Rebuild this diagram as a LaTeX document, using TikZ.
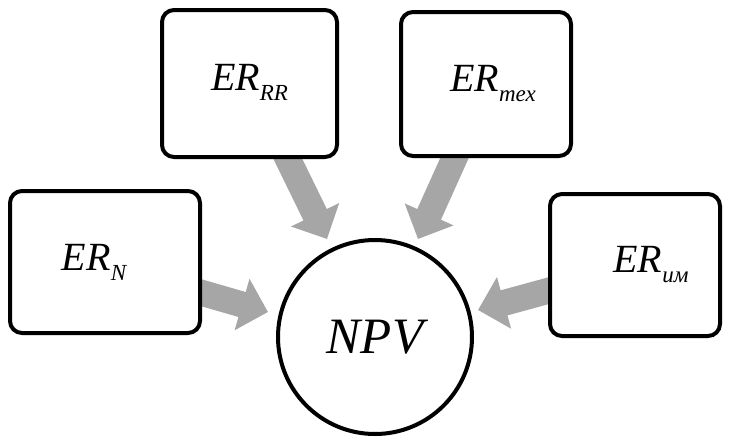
\documentclass[tikz,border=0pt]{standalone}
\usepackage{fontspec}
\setmainfont{Liberation Serif}
\usetikzlibrary{arrows.meta}
\pgfdeclarelayer{bg}
\pgfsetlayers{bg,main}
\definecolor{flowgray}{HTML}{A6A6A6}
% ER with a lowered subscript, in large italic type
\newcommand{\ersub}[1]{{\itshape\fontsize{40}{42}\selectfont ER\raisebox{-10pt}{\fontsize{23}{25}\selectfont #1}}}
\tikzset{
  factor/.style={draw=black, line width=4pt, rounded corners=12pt, fill=white, inner sep=0pt},
  result/.style={draw=black, line width=4pt, circle, fill=white, minimum size=194pt, inner sep=0pt,
                 font=\itshape\fontsize{51}{53}\selectfont},
  flow/.style={draw=flowgray, line width=26pt,
               -{Triangle[length=27pt,width=52pt]}, flowgray}
}
\begin{document}
\begin{tikzpicture}[x=1pt,y=-1pt]
  \useasboundingbox (0,0) rectangle (729,437);

  % four factor boxes and the result circle
  \node[factor, minimum width=175pt, minimum height=147pt] (rr)  at (249.5,83.5) {\raisebox{12pt}{\ersub{RR}}};
  \node[factor, minimum width=170pt, minimum height=144pt] (tex) at (486,84)   {\hspace*{14pt}\ersub{тех}};
  \node[factor, minimum width=190pt, minimum height=142pt] (n)   at (105,262)  {\ersub{N}\hspace*{22pt}};
  \node[factor, minimum width=170pt, minimum height=142pt] (im)  at (635,265)  {\hspace*{32pt}\ersub{им}};
  \node[result] (npv) at (375,337) {NPV};

  % tail points sit just inside the boxes; tips stop short of the circle
  \coordinate (rrs)  at (283,149);  \coordinate (rrt)  at (327,239);
  \coordinate (texs) at (459,148);  \coordinate (text) at (418,239);
  \coordinate (ns)   at (185,288);  \coordinate (nt)   at (268,312);
  \coordinate (ims)  at (562,287);  \coordinate (imt)  at (478,310);

  \begin{pgfonlayer}{bg}
    \draw[flow] (rrs)  -- (rrt);
    \draw[flow] (texs) -- (text);
    \draw[flow] (ns)   -- (nt);
    \draw[flow] (ims)  -- (imt);
  \end{pgfonlayer}
\end{tikzpicture}
\end{document}
